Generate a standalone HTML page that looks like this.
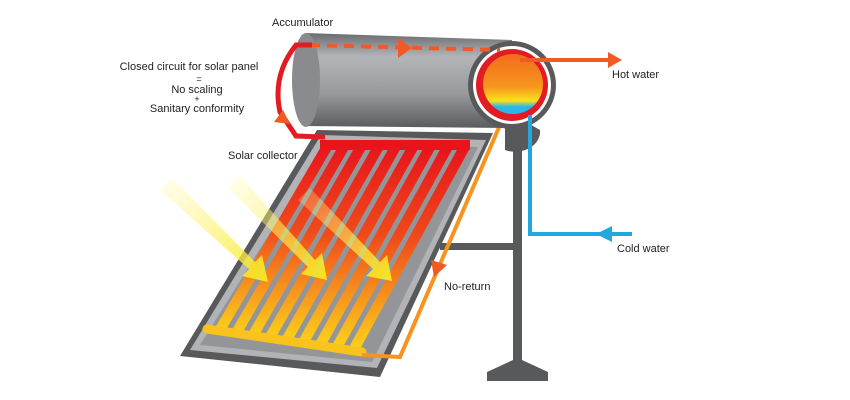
<!DOCTYPE html>
<html><head><meta charset="utf-8"><style>
html,body{margin:0;padding:0;background:#fff;}
svg{display:block;}
text{font-family:"Liberation Sans",sans-serif;font-size:11px;fill:#222;}
</style></head><body>
<svg width="850" height="400" viewBox="0 0 850 400">
<defs>
<linearGradient id="tank" x1="0" y1="0" x2="0" y2="1">
<stop offset="0" stop-color="#6a6b6e"/><stop offset="0.25" stop-color="#b4b5b8"/><stop offset="0.65" stop-color="#97989b"/><stop offset="1" stop-color="#5a5b5e"/></linearGradient>
<linearGradient id="tube" x1="0" y1="0" x2="0" y2="1">
<stop offset="0" stop-color="#e8141c"/><stop offset="0.45" stop-color="#f04a1a"/><stop offset="0.75" stop-color="#f7941d"/><stop offset="1" stop-color="#fbd21a"/></linearGradient>
<linearGradient id="hot" x1="0" y1="0" x2="0" y2="1">
<stop offset="0" stop-color="#f26b1d"/><stop offset="0.55" stop-color="#f7961d"/><stop offset="0.78" stop-color="#f9e21c"/><stop offset="0.88" stop-color="#2ab6e8"/></linearGradient>
<linearGradient id="ray" x1="0" y1="0" x2="1" y2="1">
<stop offset="0" stop-color="#fff7a0" stop-opacity="0.2"/><stop offset="1" stop-color="#f9ea1c" stop-opacity="0.95"/></linearGradient>
</defs>
<!-- stand -->
<rect x="513" y="140" width="9" height="235" fill="#58595b"/>
<rect x="440" y="243" width="78" height="7" fill="#58595b"/>
<polygon points="513,360 522,360 548,372 548,381 487,381 487,372" fill="#58595b"/>
<!-- panel -->
<polygon points="317,130 493,133 380,377 180,356" fill="#58595b"/>
<polygon points="321,135 486,140 377,368 190,350" fill="#b1b3b6"/>
<polygon points="328,140 478,147 372,362 200,345" fill="#939598"/>
<!-- tubes -->
<rect x="320" y="140" width="150" height="10" fill="#e8141c"/>
<g>
<polygon points="322,145 334,145 224,333 212,333" fill="url(#tube)"/>
<polygon points="339,145 351,145 241,335 229,335" fill="url(#tube)"/>
<polygon points="356,145 368,145 258,337 246,337" fill="url(#tube)"/>
<polygon points="373,146 385,146 275,339 263,339" fill="url(#tube)"/>
<polygon points="390,146 402,146 292,341 280,341" fill="url(#tube)"/>
<polygon points="407,147 419,147 309,343 297,343" fill="url(#tube)"/>
<polygon points="424,147 436,147 326,345 314,345" fill="url(#tube)"/>
<polygon points="441,148 453,148 343,347 331,347" fill="url(#tube)"/>
<polygon points="458,148 470,148 360,349 348,349" fill="url(#tube)"/>
</g>
<line x1="207" y1="329" x2="362" y2="352" stroke="#f9c21c" stroke-width="9" stroke-linecap="round"/>
<!-- sun rays -->
<g fill="url(#ray)">
<polygon points="160,190 172,178 255,262 262,255 268,282 242,276 249,269"/>
<polygon points="228,188 240,176 315,260 322,253 327,280 301,274 308,267"/>
<polygon points="298,200 310,188 380,262 387,255 392,281 366,276 373,269"/>
</g>
<!-- orange pipe -->
<polyline points="362,355 400,357 500,125" fill="none" stroke="#f7941d" stroke-width="4"/>
<polygon points="431,260 447,265 434,277" fill="#f15a24"/>
<!-- tank -->
<path d="M305,33 L512,40 L512,128 L305,126 Z" fill="url(#tank)"/>
<ellipse cx="306" cy="80" rx="14" ry="47" fill="#8a8b8e"/>
<path d="M505,110 L540,130 A 25 20 0 0 1 505,150 Z" fill="#58595b"/>
<circle cx="512" cy="85" r="44" fill="#58595b"/>
<circle cx="512" cy="85" r="39" fill="#fff"/>
<circle cx="512" cy="85" r="36" fill="#e31b23"/>
<circle cx="513" cy="84" r="30" fill="url(#hot)"/>
<!-- blue pipe -->
<polyline points="530,115 530,234 632,234" fill="none" stroke="#22a8e0" stroke-width="4"/>
<polygon points="596,234 612,226 612,242" fill="#22a8e0"/>
<!-- hot water -->
<line x1="520" y1="60" x2="610" y2="60" stroke="#f15a24" stroke-width="4"/>
<polygon points="622,60 608,52 608,68" fill="#f15a24"/>
<!-- closed circuit -->
<line x1="310" y1="45" x2="500" y2="50" stroke="#f15a24" stroke-width="4" stroke-dasharray="10,7"/>
<polygon points="412,48 398,38 398,58" fill="#f15a24"/>
<path d="M312,45 L296,45 Q272,75 280,112 L296,136 L325,137" fill="none" stroke="#e31b23" stroke-width="5"/>
<polygon points="274,122 283,110 290,124" fill="#f15a24"/>
<!-- labels -->
<text x="272" y="26">Accumulator</text>
<text x="189" y="70" text-anchor="middle">Closed circuit for solar panel</text>
<text x="199" y="82" text-anchor="middle" style="font-size:9px">=</text>
<text x="197" y="93" text-anchor="middle">No scaling</text>
<text x="197" y="102" text-anchor="middle" style="font-size:9px">+</text>
<text x="197" y="112" text-anchor="middle">Sanitary conformity</text>
<text x="228" y="159">Solar collector</text>
<text x="612" y="78">Hot water</text>
<text x="617" y="252">Cold water</text>
<text x="444" y="290">No-return</text>
</svg>
</body></html>
